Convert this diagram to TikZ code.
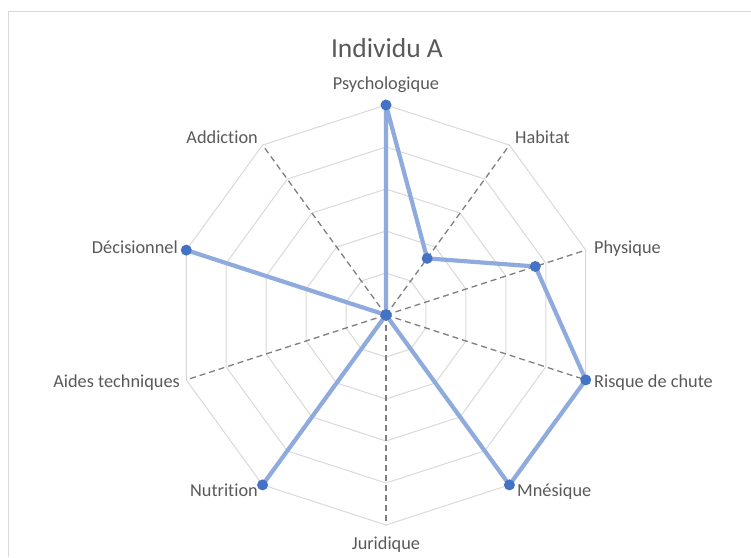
\documentclass[tikz,border=0pt]{standalone}
\usepackage{fontspec}
\setmainfont{Carlito}[Ligatures={NoCommon}]
\usetikzlibrary{calc}
\definecolor{gridc}{HTML}{D9D9D9}
\definecolor{axisc}{HTML}{7F7F7F}
\definecolor{textc}{HTML}{595959}
\definecolor{linec}{HTML}{8FAADC}
\definecolor{markc}{HTML}{4472C4}
\definecolor{framec}{HTML}{D9D9D9}
\tikzset{
  gridline/.style={draw=gridc, line width=1pt},
  axisline/.style={draw=axisc, line width=1.3pt, dash pattern=on 6pt off 4pt},
  dataline/.style={draw=linec, line width=4.2pt, line join=round},
  marker/.style={circle, fill=markc, inner sep=0pt, minimum size=11pt},
  lbl/.style={text=textc, font=\fontsize{18.3}{22}\selectfont, inner sep=0pt},
  ttl/.style={text=textc, font=\fontsize{27.5}{32}\selectfont, inner sep=0pt},
}
\begin{document}
\begin{tikzpicture}[x=1pt,y=-1pt]
\useasboundingbox (0,0) rectangle (751,557);
\draw[draw=framec, line width=1pt] (8.5,557) -- (8.5,11) -- (751,11);
\node[ttl, anchor=base] (title) at (387,57) {Individu A};
\coordinate (O) at (386,315);
% grid rings
\foreach \k in {42,84,126,168,210}
  \draw[gridline, shift={(O)}] (90:\k) -- (54:\k) -- (18:\k) -- (-18:\k) -- (-54:\k) -- (-90:\k) -- (-126:\k) -- (-162:\k) -- (162:\k) -- (126:\k) -- cycle;
% axis end points (screen angles, clockwise from top)
\foreach \i/\a in {1/90,2/54,3/18,4/-18,5/-54,6/-90,7/-126,8/-162,9/162,10/126}
  \coordinate (v\i) at ($(O)+(-\a:210)$);
\foreach \i in {1,...,10}
  \draw[axisline] (O) -- (v\i);
% data points
\foreach \i/\a/\r in {1/90/210,2/54/70,3/18/157,4/-18/210,5/-54/210,6/-90/0,7/-126/210,8/-162/0,9/162/210,10/126/0}
  \coordinate (d\i) at ($(O)+(-\a:\r)$);
\draw[dataline] (d1) -- (d2) -- (d3) -- (d4) -- (d5) -- (d6) -- (d7) -- (d8) -- (d9) -- (d10) -- cycle;
\foreach \i in {1,...,10}
  \node[marker] (m\i) at (d\i) {};
% labels
\node[lbl, anchor=base] (l1) at (386,89) {Psychologique};
\node[lbl, anchor=base west] (l2) at (515,143) {Habitat};
\node[lbl, anchor=base west] (l3) at (594,253) {Physique};
\node[lbl, anchor=base west] (l4) at (594,387) {Risque de chute};
\node[lbl, anchor=base west] (l5) at (517,496) {Mnésique};
\node[lbl, anchor=base] (l6) at (386,549) {Juridique};
\node[lbl, anchor=base east] (l7) at (258,496) {Nutrition};
\node[lbl, anchor=base east] (l8) at (180,387) {Aides techniques};
\node[lbl, anchor=base east] (l9) at (178,253) {Décisionnel};
\node[lbl, anchor=base east] (l10) at (258,143) {Addiction};
\end{tikzpicture}
\end{document}
